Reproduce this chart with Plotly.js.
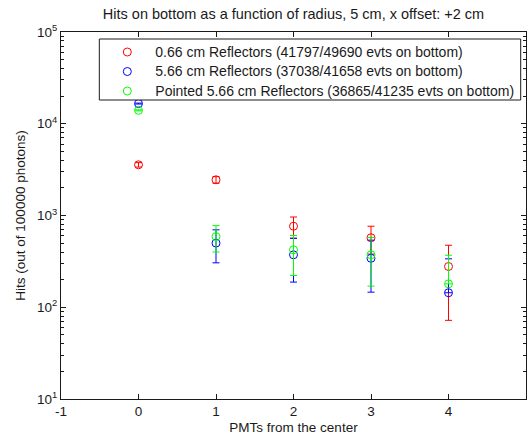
<!DOCTYPE html>
<html>
<head>
<meta charset="utf-8">
<script src="https://cdn.plot.ly/plotly-3.0.1.min.js"></script>
<style>html,body{margin:0;padding:0;background:#fff;}#chart{width:529px;height:438px;}</style>
</head>
<body>
<div id="chart"></div>
<script>
// x positions: PMTs from the center
var pmts = [0, 1, 2, 3, 4];

// Series values (hits out of 100000 photons) and error sizes
var redName = "0.66 cm Reflectors (41797/49690 evts on bottom)";
var redHits = [3570, 2450, 764, 572, 278];
var redErrUp = [200, 200, 199, 192, 196];
var redErrDown = [200, 200, 199, 192, 206];

var blueName = "5.66 cm Reflectors (37038/41658 evts on bottom)";
var blueHits = [16600, 500, 373, 342, 144];
var blueErrUp = [200, 198, 192, 196, 193];
var blueErrDown = [200, 195, 185, 196, 0];

var greenName = "Pointed 5.66 cm Reflectors (36865/41235 evts on bottom)";
var greenHits = [14000, 590, 423, 373, 180];
var greenErrUp = [190, 186, 182, 203, 189];
var greenErrDown = [190, 190, 201, 203, 0];

// Tick labels
var xTickVals = [-1, 0, 1, 2, 3, 4, 5];
var xTickText = ["-1", "0", "1", "2", "3", "4", "5"];
var yTickVals = [10, 100, 1000, 10000, 100000];
var yTickText = ["10<sup>1</sup>", "10<sup>2</sup>", "10<sup>3</sup>", "10<sup>4</sup>", "10<sup>5</sup>"];

var FONT = "Liberation Sans, Arial, sans-serif";
var TXT = "#1a1a1a";

function legendLabel(s) { return '<span style="font-size:14px">' + s + '</span>'; }

function series(name, y, up, down, color) {
  return {
    type: "scatter",
    mode: "markers",
    name: legendLabel(name),
    x: pmts,
    y: y,
    marker: {symbol: "circle-open", size: 8, color: color, line: {width: 1, color: color}},
    error_y: {type: "data", symmetric: false, array: up, arrayminus: down,
              color: color, thickness: 1, width: 3.5, visible: true}
  };
}

var data = [
  series(redName, redHits, redErrUp, redErrDown, "rgb(255,0,0)"),
  series(blueName, blueHits, blueErrUp, blueErrDown, "rgb(0,0,255)"),
  series(greenName, greenHits, greenErrUp, greenErrDown, "rgb(0,255,0)")
];

var layout = {
  width: 529, height: 438,
  margin: {l: 61, r: 3, t: 32, b: 39, pad: 0},
  paper_bgcolor: "#fff", plot_bgcolor: "#fff",
  font: {family: FONT, size: 13.5, color: TXT},
  showlegend: true,
  title: {text: "Hits on bottom as a function of radius, 5 cm, x offset: +2 cm",
          font: {family: FONT, size: 14.5, color: TXT},
          xref: "paper", x: 0.5, xanchor: "center",
          yref: "container", y: 1 - 14/438, yanchor: "middle"},
  xaxis: {
    range: [-1, 5], tickmode: "array", tickvals: xTickVals, ticktext: xTickText,
    ticks: "inside", ticklen: 5, tickcolor: TXT, showline: true, mirror: "ticks",
    linecolor: TXT, linewidth: 1, showgrid: false, zeroline: false,
    tickfont: {family: FONT, size: 13.5, color: TXT},
    title: {text: "PMTs from the center", font: {family: FONT, size: 13.5, color: TXT}, standoff: 4}
  },
  yaxis: {
    type: "log", range: [1, 5], tickmode: "array", tickvals: yTickVals, ticktext: yTickText,
    ticks: "inside", ticklen: 5, tickcolor: TXT, showline: true, mirror: "ticks",
    linecolor: TXT, linewidth: 1, showgrid: false, zeroline: false,
    minor: {dtick: "D1", ticks: "inside", ticklen: 3, tickcolor: TXT, showgrid: false},
    tickfont: {family: FONT, size: 13.5, color: TXT},
    title: {text: "Hits (out of 100000 photons)", font: {family: FONT, size: 13.5, color: TXT}, standoff: 8}
  },
  // legend box drawn as a white framed rectangle above the data; legend entries on top of it
  shapes: [{
    type: "rect", xref: "paper", yref: "paper", layer: "above",
    x0: 0.0824, x1: 0.9886, y0: 0.8147, y1: 0.9809,
    fillcolor: "#fff", line: {color: TXT, width: 1}
  }],
  legend: {
    x: 0.0824, y: 0.9857, xanchor: "left", yanchor: "top",
    bgcolor: "rgba(0,0,0,0)", borderwidth: 0,
    font: {family: FONT, size: 12.7, color: TXT},
    itemwidth: 46, tracegroupgap: 0
  }
};

Plotly.newPlot("chart", data, layout, {displayModeBar: false, staticPlot: true});
</script>
</body>
</html>
